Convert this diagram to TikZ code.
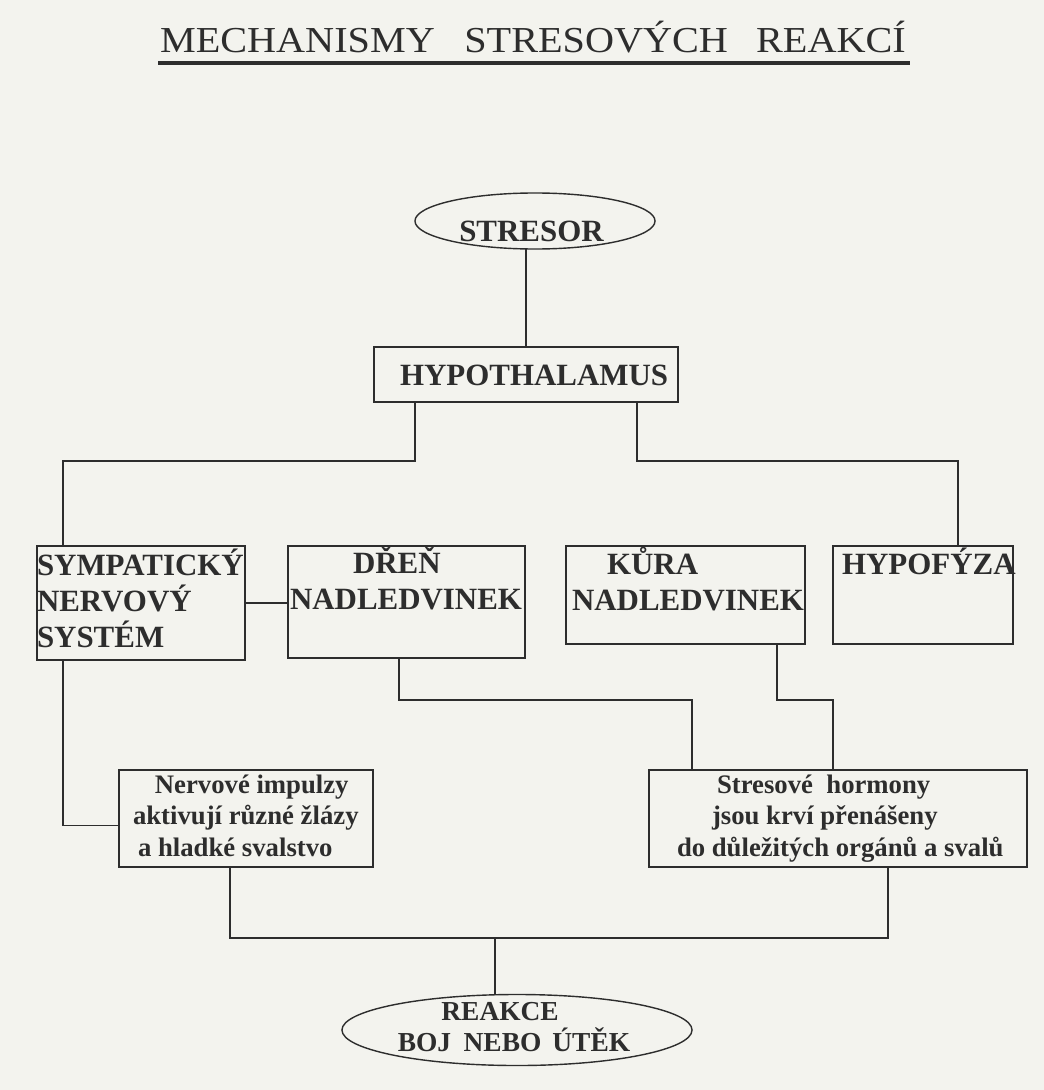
\documentclass[tikz,border=0pt]{standalone}
\usepackage{fontspec}
\setmainfont{Liberation Serif}
\newfontfamily\titlefont[FakeStretch=1.1]{Liberation Serif}
\usetikzlibrary{shapes.geometric, calc}

\definecolor{paper}{RGB}{243,243,238}
\definecolor{ink}{RGB}{45,45,45}

\begin{document}
\begin{tikzpicture}[x=0.025cm, y=-0.025cm]
\tikzstyle{every node}=[inner sep=0pt, outer sep=0pt, text=ink]
\tikzstyle{box}=[draw=ink, line width=1pt, rectangle, anchor=north west]
\tikzstyle{oval}=[draw=ink, line width=1pt, ellipse]
\tikzstyle{caps}=[font=\fontsize{22}{25.5}\selectfont\bfseries, align=left, anchor=base west]
\tikzstyle{small}=[font=\fontsize{19}{22.4}\selectfont\bfseries, align=left, anchor=base west]
\tikzstyle{wire}=[draw=ink, line width=1pt]

% paper
\fill[paper] (0,0) rectangle (1044,1090);

% title
\node[font=\titlefont\fontsize{26}{30}\selectfont, anchor=base west] at (160,53) (title)
  {MECHANISMY\hspace{21pt}STRESOVÝCH\hspace{20pt}REAKCÍ};
\draw[draw=ink, line width=2.2pt] ($(title.base west)+(-2,10)$) -- ($(title.base east)+(4,10)$);

% top
\node[oval, minimum width=6cm, minimum height=1.4cm,
  label={[font=\fontsize{22}{25.5}\selectfont\bfseries, xshift=-0.0875cm, yshift=-0.25cm]center:STRESOR}] at (535,221) (stresor) {};
\node[box, minimum width=7.6cm, minimum height=1.375cm,
  label={[caps, xshift=0.65cm, yshift=-0.9625cm]north west:HYPOTHALAMUS}] at (374,347) (hyp) {};

% middle row (base of a label = its last line)
\node[box, minimum width=5.2cm, minimum height=2.85cm,
  label={[caps, yshift=-2.5375cm]north west:{SYMPATICKÝ\\NERVOVÝ\\SYSTÉM}}] at (37,546) (sym) {};
\node[box, minimum width=5.925cm, minimum height=2.8cm,
  label={[caps, xshift=0.05cm, yshift=-1.5875cm]north west:{\hspace{44.8pt}DŘEŇ\\NADLEDVINEK}}] at (288,546) (dren) {};
\node[box, minimum width=5.975cm, minimum height=2.45cm,
  label={[caps, xshift=0.15cm, yshift=-1.6125cm]north west:{\hspace{24.9pt}KŮRA\\NADLEDVINEK}}] at (566,546) (kura) {};
\node[box, minimum width=4.5cm, minimum height=2.45cm,
  label={[caps, xshift=0.225cm, yshift=-0.7cm]north west:HYPOFÝZA}] at (833,546) (hypof) {};

% lower row
\node[box, minimum width=6.35cm, minimum height=2.425cm,
  label={[small, xshift=0.35cm, yshift=-2.15cm]north west:{\hspace{15.6pt}Nervové impulzy\\aktivují různé žlázy\\\hspace{3.6pt}a hladké svalstvo}}] at (119,770) (nerv) {};
\node[box, minimum width=9.45cm, minimum height=2.425cm,
  label={[small, xshift=0.7cm, yshift=-2.15cm]north west:{\hspace{28.5pt}Stresové\ \ hormony\\\hspace{24.9pt}jsou krví přenášeny\\do důležitých orgánů a svalů}}] at (649,770) (horm) {};

% bottom
\node[oval, minimum width=8.75cm, minimum height=1.775cm,
  label={[font=\fontsize{19.5}{22}\selectfont\bfseries, align=left,
    xshift=-0.075cm, yshift=0.0625cm]center:{\hspace{31pt}REAKCE\\BOJ\hspace{4pt} NEBO\hspace{3pt} ÚTĚK}}] at (517,1030) (reakce) {};

% connectors
\draw[wire] (hyp.north) -- (hyp.north |- stresor.south);
\draw[wire] ($(hyp.south west)+(41,0)$) -- ++(0,59) -| ($(sym.north west)+(26,0)$);
\draw[wire] ($(hyp.south east)+(-41,0)$) -- ++(0,59) -| ($(hypof.north west)+(125,0)$);
\draw[wire] (sym.east) -- (sym.east -| dren.west);
\draw[wire] ($(kura.east)+(0,7)$) -- ($(kura.east)+(0,7)$ -| hypof.west);
\draw[wire] ($(dren.south west)+(111,0)$) -- ++(0,42) -| ($(horm.north west)+(43,0)$);
\draw[wire] ($(kura.south west)+(211,0)$) -- ++(0,56) -| ($(horm.north west)+(184,0)$);
\draw[wire] ($(sym.south west)+(26,0)$) |- ($(nerv.west)+(0,7)$);
\draw[wire] ($(nerv.south west)+(111,0)$) -- ++(0,71) -| ($(horm.south west)+(239,0)$);
\draw[wire] ($(reakce.north)+(-22,0)$) -- ++(0,-56);
\end{tikzpicture}
\end{document}
